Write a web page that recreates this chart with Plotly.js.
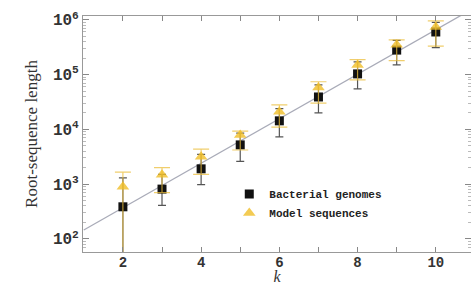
<!DOCTYPE html>
<html><head><meta charset="utf-8">
<script src="https://cdn.plot.ly/plotly-3.0.1.min.js"></script>
<style>html,body{margin:0;padding:0;background:#fff}#c{width:471px;height:285px}</style>
</head><body><div id="c"></div>
<script>
var kValues = [2, 3, 4, 5, 6, 7, 8, 9, 10];
var bacterialLength = [385, 810, 1900, 5200, 14300, 39000, 103000, 280000, 600000];
var bacterialUpper = [1300, 1500, 3500, 8500, 24000, 65000, 170000, 420000, 900000];
var bacterialLower = [40, 410, 980, 2600, 7300, 20000, 55000, 150000, 310000];
var modelLength = [890, 1480, 3150, 7900, 21000, 58000, 150000, 350000, 740000];
var modelUpper = [1650, 2000, 4350, 9300, 28000, 74000, 187000, 430000, 960000];
var modelLower = [30, 700, 1500, 4200, 11000, 30000, 80000, 180000, 330000];
var fitK = [1, 11];
var fitLength = [145, 1680000];
var yTickVals = [100, 1000, 10000, 100000, 1000000];
var yTickText = ['10<sup>2</sup>', '10<sup>3</sup>', '10<sup>4</sup>', '10<sup>5</sup>', '10<sup>6</sup>'];
var xTickVals = [2, 4, 6, 8, 10];

function diff(a, b, sign) { return a.map(function (v, i) { return sign * (b[i] - v); }); }

var traces = [
  {x: fitK, y: fitLength, mode: 'lines', line: {color: '#a9abb8', width: 1.3}, showlegend: false, hoverinfo: 'skip'},
  {x: kValues, y: bacterialLength, mode: 'markers', name: 'Bacterial genomes',
   marker: {symbol: 'square', size: 9, color: '#111'},
   error_y: {type: 'data', symmetric: false, array: diff(bacterialLength, bacterialUpper, 1), arrayminus: diff(bacterialLength, bacterialLower, -1), color: '#555', thickness: 1.2, width: 4}},
  {x: kValues, y: modelLength, mode: 'markers', name: 'Model sequences',
   marker: {symbol: 'triangle-up', size: 11, color: 'rgba(240,190,40,0.8)'},
   error_y: {type: 'data', symmetric: false, array: diff(modelLength, modelUpper, 1), arrayminus: diff(modelLength, modelLower, -1), color: 'rgba(235,190,60,0.75)', thickness: 1.2, width: 8}}
];

var layout = {
  width: 471, height: 285,
  margin: {l: 83, r: 0, t: 16, b: 33},
  paper_bgcolor: '#fff', plot_bgcolor: '#fff',
  showlegend: true,
  legend: {x: 0.377, y: 0.205, xanchor: 'left', yanchor: 'middle', bgcolor: 'rgba(0,0,0,0)',
    font: {family: 'Liberation Mono, monospace', size: 11, color: '#222', weight: 'bold'}, tracegroupgap: 0, itemwidth: 20},
  xaxis: {range: [0.98, 10.9], tickvals: xTickVals, ticks: 'inside', ticklen: 5, tickcolor: '#888',
    showline: true, linecolor: '#999', mirror: 'allticks', showgrid: false, zeroline: false,
    minor: {dtick: 1, ticks: 'inside', ticklen: 5, tickcolor: '#888'}, ticklabelstandoff: -3,
    tickfont: {family: 'Liberation Mono, monospace', size: 14, color: '#333', weight: 'bold'},
    title: {text: '<i>k</i>', font: {family: 'Liberation Serif, serif', size: 16, color: '#333'}, standoff: 4}},
  yaxis: {type: 'log', range: [1.76, 6.07], tickvals: yTickVals, ticktext: yTickText, ticks: 'inside', ticklen: 6,
    tickcolor: '#888', showline: true, linecolor: '#999', mirror: 'ticks', showgrid: false, zeroline: false,
    minor: {dtick: 'D1', ticks: 'inside', ticklen: 3, tickcolor: '#bbb'},
    tickfont: {family: 'Liberation Mono, monospace', size: 16, color: '#333', weight: 'bold'},
    title: {text: 'Root-sequence length', font: {family: 'Liberation Serif, serif', size: 17, color: '#333'}, standoff: 10}}
};
Plotly.newPlot('c', traces, layout, {staticPlot: true});
</script></body></html>
